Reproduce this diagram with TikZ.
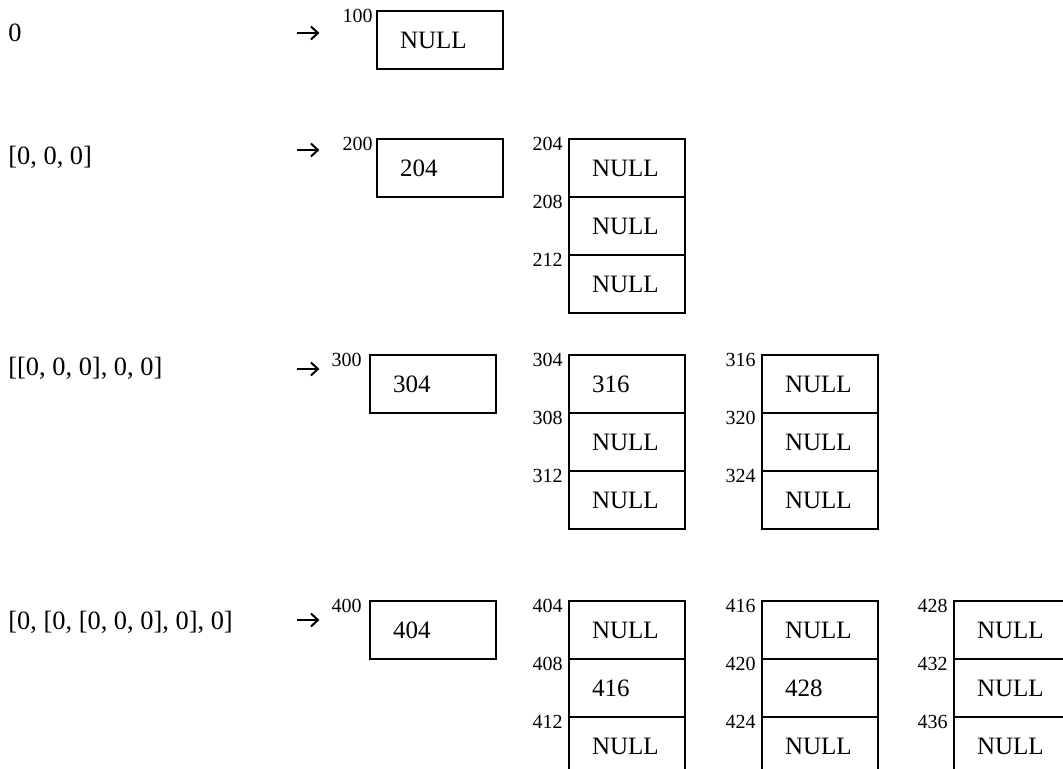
\documentclass[tikz,border=0pt]{standalone}
\usepackage{fontspec}
\setmainfont{Liberation Serif}
\usetikzlibrary{arrows.meta,positioning}

\begin{document}
\begin{tikzpicture}[node distance=0pt,x=1pt,y=1pt]
\tikzstyle{mainbox}=[draw,line width=0.6pt,outer sep=0pt,inner xsep=11.5pt,inner ysep=0pt,text width=40pt,align=left,minimum height=29pt,font=\fontsize{12.5}{15}\selectfont]
\tikzstyle{cell}=[mainbox,text width=35pt]
\tikzstyle{addr}=[inner sep=0pt,anchor=north east,yshift=1pt,font=\fontsize{10}{11}\selectfont]
\tikzstyle{expr}=[inner sep=0pt,anchor=base west,font=\fontsize{13.2}{15}\selectfont]
\tikzstyle{arrsym}=[inner sep=0pt,minimum width=11pt,minimum height=6pt]
\tikzstyle{pointer}=[line width=1pt,-{Straight Barb[length=3.5pt,width=6.5pt,line width=1pt]}]
\path[use as bounding box,clip] (0,0) rectangle (531.5,-384.5);
% 0
\node[expr] (t1) at (4,-21) {0};
\node[arrsym] (r1) at (154,-16.5) {};
\draw[pointer] (r1.west) -- (r1.east);
\node[mainbox,anchor=north west] (b100) at (188.5,-5.5) {NULL};
\node[left=2pt of b100.north west,addr] (a100) {100};
% [0, 0, 0]
\node[expr] (t2) at (4,-82.5) {[0, 0, 0]};
\node[arrsym] (r2) at (154,-75) {};
\draw[pointer] (r2.west) -- (r2.east);
\node[mainbox,anchor=north west] (b200) at (188.5,-69.5) {204};
\node[left=2pt of b200.north west,addr] (a200) {200};
\node[cell,right=33pt of b200] (c204) {NULL};
\node[cell,below=of c204] (c208) {NULL};
\node[cell,below=of c208] (c212) {NULL};
\node[left=3pt of c204.north west,addr] (a204) {204};
\node[left=3pt of c208.north west,addr] (a208) {208};
\node[left=3pt of c212.north west,addr] (a212) {212};
% [[0, 0, 0], 0, 0]
\node[expr] (t3) at (4,-188) {[[0, 0, 0], 0, 0]};
\node[arrsym] (r3) at (154,-184.5) {};
\draw[pointer] (r3.west) -- (r3.east);
\node[mainbox,anchor=north west] (b300) at (185,-177.5) {304};
\node[left=4pt of b300.north west,addr] (a300) {300};
\node[cell,right=36.5pt of b300] (c304) {316};
\node[cell,below=of c304] (c308) {NULL};
\node[cell,below=of c308] (c312) {NULL};
\node[left=3pt of c304.north west,addr] (a304) {304};
\node[left=3pt of c308.north west,addr] (a308) {308};
\node[left=3pt of c312.north west,addr] (a312) {312};
\node[cell,right=38.5pt of c304] (c316) {NULL};
\node[cell,below=of c316] (c320) {NULL};
\node[cell,below=of c320] (c324) {NULL};
\node[left=3pt of c316.north west,addr] (a316) {316};
\node[left=3pt of c320.north west,addr] (a320) {320};
\node[left=3pt of c324.north west,addr] (a324) {324};
% [0, [0, [0, 0, 0], 0], 0]
\node[expr] (t4) at (4,-314.5) {[0, [0, [0, 0, 0], 0], 0]};
\node[arrsym] (r4) at (154,-310) {};
\draw[pointer] (r4.west) -- (r4.east);
\node[mainbox,anchor=north west] (b400) at (185,-300.5) {404};
\node[left=4pt of b400.north west,addr] (a400) {400};
\node[cell,right=36.5pt of b400] (c404) {NULL};
\node[cell,below=of c404] (c408) {416};
\node[cell,below=of c408] (c412) {NULL};
\node[left=3pt of c404.north west,addr] (a404) {404};
\node[left=3pt of c408.north west,addr] (a408) {408};
\node[left=3pt of c412.north west,addr] (a412) {412};
\node[cell,right=38.5pt of c404] (c416) {NULL};
\node[cell,below=of c416] (c420) {428};
\node[cell,below=of c420] (c424) {NULL};
\node[left=3pt of c416.north west,addr] (a416) {416};
\node[left=3pt of c420.north west,addr] (a420) {420};
\node[left=3pt of c424.north west,addr] (a424) {424};
\node[cell,right=38pt of c416] (c428) {NULL};
\node[cell,below=of c428] (c432) {NULL};
\node[cell,below=of c432] (c436) {NULL};
\node[left=3pt of c428.north west,addr] (a428) {428};
\node[left=3pt of c432.north west,addr] (a432) {432};
\node[left=3pt of c436.north west,addr] (a436) {436};
\end{tikzpicture}
\end{document}
